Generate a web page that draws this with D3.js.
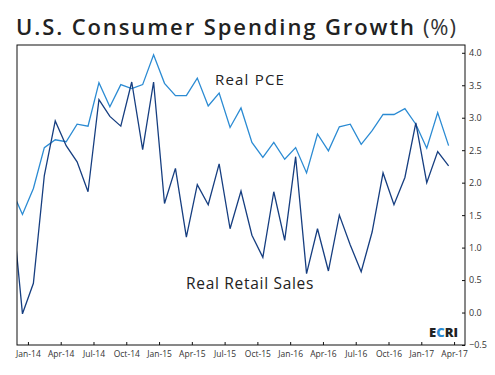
<!DOCTYPE html>
<html>
<head>
<meta charset="utf-8">
<script src="https://cdn.jsdelivr.net/npm/d3@7"></script>
<style>
  body { margin: 0; background: #fff; }
  svg { font-family: "Open Sans", "Noto Sans", sans-serif; }
</style>
</head>
<body>
<div id="chart"></div>
<script>
// months Dec-13 .. Apr-17 (index -1 .. 39)
const startIndex = -1;
const realPCE = [
  1.89, 1.51, 1.91, 2.54, 2.66, 2.63, 2.90, 2.87, 3.54, 3.17, 3.51, 3.45, 3.51,
  3.97, 3.53, 3.34, 3.34, 3.61, 3.18, 3.38, 2.85, 3.15, 2.62, 2.39, 2.62,
  2.36, 2.54, 2.15, 2.75, 2.49, 2.86, 2.90, 2.59, 2.80, 3.05, 3.05, 3.14,
  2.90, 2.53, 3.08, 2.57
];
const realRetail = [
  1.73, -0.02, 0.45, 2.11, 2.95, 2.57, 2.32, 1.86, 3.28, 3.02, 2.87, 3.55, 2.51,
  3.55, 1.68, 2.22, 1.16, 1.97, 1.66, 2.29, 1.29, 1.87, 1.19, 0.85, 1.86,
  1.11, 2.40, 0.60, 1.29, 0.64, 1.50, 1.04, 0.63, 1.24, 2.15, 1.66, 2.08,
  2.92, 2.00, 2.48, 2.26
];
const tickLabels = ["Jan-14", "Apr-14", "Jul-14", "Oct-14", "Jan-15", "Apr-15", "Jul-15",
  "Oct-15", "Jan-16", "Apr-16", "Jul-16", "Oct-16", "Jan-17", "Apr-17"];
const yTicks = [-0.5, 0, 0.5, 1, 1.5, 2, 2.5, 3, 3.5, 4];

const width = 495, height = 375;
const plotLeft = 17, plotRight = 465, plotTop = 45, plotBottom = 345;

const svg = d3.select("#chart").append("svg")
  .attr("width", width).attr("height", height);

const x = d3.scaleLinear().domain([-0.5, 40.5]).range([plotLeft, plotRight]);
const y = d3.scaleLinear().domain([-0.5, 4.12]).range([plotBottom, plotTop]);

// title
const title = svg.append("text")
  .attr("x", 16).attr("y", 35)
  .attr("font-size", 22).attr("font-weight", 600).attr("fill", "#222")
  .attr("letter-spacing", 1.9);
title.append("tspan").text("U.S. Consumer Spending Growth");
title.append("tspan").attr("font-weight", 400).attr("fill", "#333")
  .attr("dx", 7).attr("letter-spacing", 1).text("(%)");

svg.append("clipPath").attr("id", "plotClip")
  .append("rect").attr("x", plotLeft).attr("y", plotTop)
  .attr("width", plotRight - plotLeft).attr("height", plotBottom - plotTop);

const line = d3.line()
  .x((d, i) => x(i + startIndex))
  .y(d => y(d));

const lines = svg.append("g").attr("clip-path", "url(#plotClip)");
lines.append("path").datum(realPCE)
  .attr("fill", "none").attr("stroke", "#2b8bd3").attr("stroke-width", 1.3)
  .attr("d", line);
lines.append("path").datum(realRetail)
  .attr("fill", "none").attr("stroke", "#163e80").attr("stroke-width", 1.3)
  .attr("d", line);

// frame
svg.append("rect")
  .attr("x", plotLeft).attr("y", plotTop)
  .attr("width", plotRight - plotLeft).attr("height", plotBottom - plotTop)
  .attr("fill", "none").attr("stroke", "#111").attr("stroke-width", 1);

// x axis (ticks between months)
const xAxis = d3.axisBottom(x)
  .tickValues(tickLabels.map((d, i) => i * 3 + 0.5))
  .tickFormat((d, i) => tickLabels[i])
  .tickSize(-3).tickPadding(6);
const gx = svg.append("g").attr("transform", `translate(0,${plotBottom})`).call(xAxis);
gx.select(".domain").remove();
gx.selectAll("line").attr("stroke", "#111");
gx.selectAll("text").attr("font-size", 8.5).attr("fill", "#333")
  .attr("font-family", "Open Sans, sans-serif");

// y axis on the right
const yAxis = d3.axisRight(y)
  .tickValues(yTicks)
  .tickFormat(d3.format(".1f"))
  .tickSize(-3).tickPadding(4);
const gy = svg.append("g").attr("transform", `translate(${plotRight},0)`).call(yAxis);
gy.select(".domain").remove();
gy.selectAll("line").attr("stroke", "#111");
gy.selectAll("text").attr("font-size", 9).attr("fill", "#333")
  .attr("font-family", "Open Sans, sans-serif");

// series labels
svg.append("text").attr("x", 215).attr("y", 85)
  .attr("font-size", 15).attr("font-weight", 500).attr("fill", "#222")
  .attr("letter-spacing", 1.2)
  .text("Real PCE");
svg.append("text").attr("x", 186).attr("y", 289)
  .attr("font-size", 15.5).attr("font-weight", 500).attr("fill", "#222")
  .attr("letter-spacing", 0.7)
  .text("Real Retail Sales");

// ECRI mark
const logo = svg.append("text").attr("x", 458).attr("y", 337)
  .attr("text-anchor", "end").attr("font-size", 13).attr("font-weight", 800)
  .attr("font-family", "Open Sans, sans-serif");
logo.append("tspan").attr("fill", "#222").text("E");
logo.append("tspan").attr("fill", "#2b8bd3").text("C");
logo.append("tspan").attr("fill", "#222").text("RI");
</script>
</body>
</html>
